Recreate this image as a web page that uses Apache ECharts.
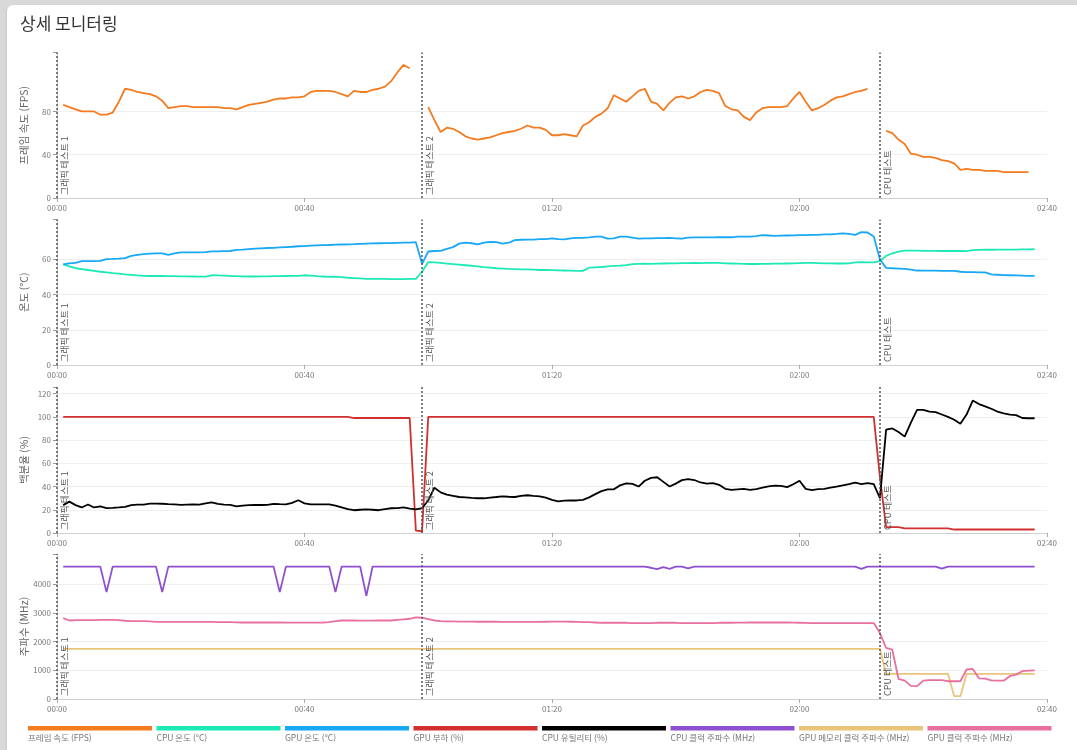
<!DOCTYPE html>
<html lang="ko">
<head>
	<meta charset="utf-8">
	<title>상세 모니터링</title>
	<style>
		html, body { margin: 0; height: 100%; background: #d9d9d9; overflow: hidden; }
		#card { position: absolute; left: 7px; top: 5px; width: 1100px; height: 800px; background: #fff; border-radius: 6px; box-shadow: 0 1px 3px rgba(0,0,0,0.15); }
		#container { position: absolute; left: 0; top: 0; width: 1077px; height: 750px; }
	</style>
</head>
<body>
<div id="card"></div>
<div id="container"></div>

<script src="https://cdn.jsdelivr.net/npm/echarts@6/dist/echarts.min.js"></script>
<script type="text/javascript">
	// sample times (minutes from start)
	var minutes = [1,2,3,4,5,6,7,8,9,10,11,12,13,14,15,16,17,18,19,20,21,22,23,24,25,26,27,28,29,30,
		31,32,33,34,35,36,37,38,39,40,41,42,43,44,45,46,47,48,49,50,51,52,53,54,55,56,57,58,59,60,
		61,62,63,64,65,66,67,68,69,70,71,72,73,74,75,76,77,78,79,80,81,82,83,84,85,86,87,88,89,90,
		91,92,93,94,95,96,97,98,99,100,101,102,103,104,105,106,107,108,109,110,111,112,113,114,115,116,117,118,119,120,
		121,122,123,124,125,126,127,128,129,130,131,132,133,134,135,136,137,138,139,140,141,142,143,144,145,146,147,148,149,150,
		151,152,153,154,155,156,157,158];

	var seriesNames = ['프레임 속도 (FPS)', 'CPU 온도 (°C)', 'GPU 온도 (°C)', 'GPU 부하 (%)',
		'CPU 유틸리티 (%)', 'CPU 클럭 주파수 (MHz)', 'GPU 메모리 클럭 주파수 (MHz)', 'GPU 클럭 주파수 (MHz)'];
	var seriesColors = ['#f47b20', '#1de9b6', '#18a8f5', '#d32f2f', '#000000', '#8e4fd0', '#e8c57a', '#e8709f'];

	var fps = [86,84,82,80,80,80,77,77,79,89,101,100,98,97,96,94,90,83,84,85,85,84,84,84,84,84,83,83,82,84,
		86,87,88,89,91,92,92,93,93,94,98,99,99,99,98,96,94,99,98,98,100,101,103,108,116,123,120,null,null,84,
		72,61,65,64,61,57,55,54,55,56,58,60,61,62,64,67,65,65,63,58,58,59,58,57,67,70,75,78,83,95,
		92,89,94,99,101,89,87,81,88,93,94,92,94,98,100,99,97,85,82,81,75,72,79,83,84,84,84,85,92,98,
		89,81,83,86,90,93,94,96,98,99,101,null,null,62,60,54,50,41,40,38,38,37,35,34,32,26,27,26,26,25,
		25,25,24,24,24,24,24,null];

	var cpuTemp = [57.2,56,55,54.5,54,53.5,53,52.6,52.2,51.9,51.5,51.2,50.9,50.7,50.6,50.6,50.6,50.5,50.5,50.4,
		50.4,50.3,50.2,50.2,51,50.9,50.8,50.6,50.5,50.4,50.3,50.3,50.4,50.4,50.5,50.5,50.6,50.7,50.7,51,
		50.8,50.5,50.3,50.1,50.2,49.9,49.6,49.4,49.2,49,49,48.9,48.9,48.8,48.8,48.8,48.9,49,53,58.5,
		58.3,58,57.6,57.3,57,56.7,56.4,56,55.6,55.3,55,54.8,54.6,54.5,54.4,54.3,54.2,54,54,53.9,
		53.8,53.7,53.6,53.5,53.5,55.3,55.5,55.7,56,56.3,56.5,56.8,57.3,57.5,57.6,57.5,57.6,57.7,57.8,57.8,
		57.9,57.9,58,57.9,58,58.1,58,57.8,57.7,57.6,57.5,57.4,57.4,57.5,57.5,57.6,57.6,57.7,57.8,57.9,
		58,58,57.9,57.8,57.8,57.7,57.7,57.8,58.3,58.4,58.3,58.3,59,62,63.5,64.5,65,65,65,64.9,
		64.9,64.9,64.8,64.8,64.8,64.8,64.7,65.3,65.4,65.5,65.5,65.6,65.6,65.6,65.6,65.7,65.7,65.8];

	var gpuTemp = [57.2,57.8,58,59,59,59,59.2,60.2,60.3,60.5,60.8,62,62.6,63,63.3,63.5,63.5,62.6,63.4,64,
		64,64,64,64.1,64.6,64.6,64.7,64.8,65.4,65.6,65.9,66.1,66.3,66.5,66.6,66.8,67,67.2,67.5,67.6,
		67.8,68,68.1,68.2,68.4,68.5,68.6,68.7,68.9,69,69.1,69.2,69.3,69.3,69.4,69.5,69.6,69.8,57.5,64.5,
		64.8,64.9,66,67,69,69.6,69.2,68.5,69.5,70,69.8,69,69.5,71,71.2,71.3,71.3,71.5,71.6,72,
		71.5,71.4,72,72.2,72.2,72.5,73,73,71.8,72,73,73,72.4,71.8,72,72,72.1,72.1,72.2,72,
		71.8,72.4,72.5,72.5,72.5,72.5,72.6,72.6,72.6,73,73,73,73.3,73.8,73.6,73.4,73.5,73.6,73.7,73.8,
		73.8,74,74,74.2,74.3,74.5,74.8,74.5,74,75.5,75.3,73,60,55.2,55,54.8,54.6,54.2,53.7,53.6,
		53.6,53.6,53.5,53.5,53.5,53,52.8,52.8,52.7,52.6,51.5,51.3,51.1,51,50.9,50.8,50.7,50.7];

	var gpuLoad = [100,100,100,100,100,100,100,100,100,100,100,100,100,100,100,100,100,100,100,100,
		100,100,100,100,100,100,100,100,100,100,100,100,100,100,100,100,100,100,100,100,
		100,100,100,100,100,100,100,99,99,99,99,99,99,99,99,99,99,2,1.5,100,
		100,100,100,100,100,100,100,100,100,100,100,100,100,100,100,100,100,100,100,100,
		100,100,100,100,100,100,100,100,100,100,100,100,100,100,100,100,100,100,100,100,
		100,100,100,100,100,100,100,100,100,100,100,100,100,100,100,100,100,100,100,100,
		100,100,100,100,100,100,100,100,100,100,100,100,48,5,5,5,4,4,4,4,
		4,4,4,4,3,3,3,3,3,3,3,3,3,3,3,3,3,3];

	var cpuUtil = [24,27,24,22,24.5,22,23,21.5,21.7,22,22.5,24,24.5,24.4,25.3,25.3,25.2,24.8,24.6,24.2,
		24.5,24.6,24.4,25.5,26.4,25,24.5,24.2,23,23.5,24,24.1,24.1,24.3,25,24.8,24.7,26,28.2,25.5,
		24.7,24.7,24.7,24.7,23.5,22,20.5,19.6,20,20.4,20,19.6,20.5,21.3,21.5,22,21,20.4,21.3,28.2,
		39,35,33,32,31,30.7,30.2,29.9,29.9,30.5,31,31.6,31.2,31,32,32.5,32,31.6,30.5,28.5,
		27.3,27.8,28,28,28.5,30.7,33.5,36,37.6,37.6,41,42.8,42.3,40,45,47.5,48,44,40,42.5,
		45.5,46.3,45.6,43.5,42.5,43,41.5,38,37.2,37.6,38,37.2,37.8,39,40.2,40.8,40.6,39.5,42,45,
		38,37,37.8,38,39,40,41,42,43.3,42,43,42,30,89,90,87,83,95,106,106,
		104.5,104,102,100,97.5,94,102,114,111,109,107,104.5,103,102,101.5,99,98.8,98.8];

	var cpuClock = [4620,4620,4620,4620,4620,4620,4620,3730,4620,4620,4620,4620,4620,4620,4620,4620,3730,4620,4620,4620,
		4620,4620,4620,4620,4620,4620,4620,4620,4620,4620,4620,4620,4620,4620,4620,3730,4620,4620,4620,4620,
		4620,4620,4620,4620,3730,4620,4620,4620,4620,3600,4620,4620,4620,4620,4620,4620,4620,4620,4620,4620,
		4620,4620,4620,4620,4620,4620,4620,4620,4620,4620,4620,4620,4620,4620,4620,4620,4620,4620,4620,4620,
		4620,4620,4620,4620,4620,4620,4620,4620,4620,4620,4620,4620,4620,4620,4620,4580,4530,4600,4540,4620,
		4620,4560,4620,4620,4620,4620,4620,4620,4620,4620,4620,4620,4620,4620,4620,4620,4620,4620,4620,4620,
		4620,4620,4620,4620,4620,4620,4620,4620,4620,4540,4620,4620,4620,4620,4620,4620,4620,4620,4620,4620,
		4620,4620,4550,4620,4620,4620,4620,4620,4620,4620,4620,4620,4620,4620,4620,4620,4620,4620];

	var gpuMemClock = [1750,1750,1750,1750,1750,1750,1750,1750,1750,1750,1750,1750,1750,1750,1750,1750,1750,1750,1750,1750,
		1750,1750,1750,1750,1750,1750,1750,1750,1750,1750,1750,1750,1750,1750,1750,1750,1750,1750,1750,1750,
		1750,1750,1750,1750,1750,1750,1750,1750,1750,1750,1750,1750,1750,1750,1750,1750,1750,1750,1750,1750,
		1750,1750,1750,1750,1750,1750,1750,1750,1750,1750,1750,1750,1750,1750,1750,1750,1750,1750,1750,1750,
		1750,1750,1750,1750,1750,1750,1750,1750,1750,1750,1750,1750,1750,1750,1750,1750,1750,1750,1750,1750,
		1750,1750,1750,1750,1750,1750,1750,1750,1750,1750,1750,1750,1750,1750,1750,1750,1750,1750,1750,1750,
		1750,1750,1750,1750,1750,1750,1750,1750,1750,1750,1750,1750,1750,875,875,875,875,875,875,875,
		875,875,875,875,100,100,875,875,875,875,875,875,875,875,875,875,875,875];

	var gpuClock = [2820,2740,2750,2750,2750,2755,2760,2760,2760,2750,2730,2720,2720,2720,2710,2690,2690,2690,2690,2690,
		2690,2690,2690,2690,2690,2685,2680,2680,2675,2670,2670,2670,2670,2670,2670,2670,2665,2665,2665,2665,
		2665,2665,2670,2680,2720,2740,2740,2740,2735,2735,2735,2740,2740,2740,2760,2780,2800,2850,2840,2790,
		2740,2720,2710,2710,2700,2700,2700,2695,2695,2695,2695,2690,2690,2690,2690,2690,2690,2690,2695,2700,
		2700,2700,2695,2690,2685,2680,2670,2660,2660,2660,2660,2660,2650,2650,2650,2650,2660,2660,2660,2660,
		2650,2650,2650,2645,2645,2650,2660,2660,2660,2665,2665,2670,2670,2670,2670,2670,2670,2670,2665,2660,
		2655,2650,2650,2650,2650,2650,2650,2650,2650,2650,2650,2650,2300,1780,1720,700,640,460,450,640,
		660,660,660,620,620,620,1030,1050,720,710,650,640,640,800,850,970,990,1000];

	var markerMinutes = [0, 59, 133];
	var markerNames = ['그래픽 테스트 1', '그래픽 테스트 2', 'CPU 테스트'];

	// y axis: [max, split step, labelled values]
	var yMax = [134.5, 82.7, 125.7, 5060];
	var yStep = [20, 10, 10, 500];
	var yLabels = [[0, 40, 80], [0, 20, 40, 60], [0, 20, 40, 60, 80, 100, 120], [0, 1000, 2000, 3000, 4000]];
	var yNames = ['프레임 속도 (FPS)', '온도 (°C)', '백분율 (%)', '주파수 (MHz)'];

	var dom = document.getElementById('container');
	var myChart = echarts.init(dom, null, { renderer: 'canvas' });

	function pairs(values) {
		return minutes.map(function (m, i) { return [m, values[i]]; });
	}
	function hhmm(v) {
		var h = Math.floor(v / 60), m = v % 60;
		return (h < 10 ? '0' : '') + h + ':' + (m < 10 ? '0' : '') + m;
	}

	var gridTops = [52.5, 219.5, 387, 554];
	var gridHeights = [145.5, 145.5, 146, 145];
	var grids = [], xAxes = [], yAxes = [];
	for (var g = 0; g < 4; g++) {
		grids.push({ left: 57, right: 30, top: gridTops[g], height: gridHeights[g] });
		xAxes.push({
			type: 'value', gridIndex: g, min: 0, max: 160, interval: 40,
			axisLine: { lineStyle: { color: '#d0d0d0' } },
			axisTick: { length: 4, lineStyle: { color: '#aaa' } },
			axisLabel: { fontSize: 8, color: '#777', margin: 6, formatter: hhmm },
			splitLine: { show: false }
		});
		yAxes.push({
			type: 'value', gridIndex: g, min: 0, max: yMax[g], interval: yStep[g],
			name: yNames[g], nameLocation: 'middle', nameGap: 28, nameMoveOverlap: false,
			nameTextStyle: { fontSize: 10.5, color: '#666' },
			axisLine: { show: true, lineStyle: { color: '#ccc' } },
			axisTick: { show: true, length: 4, lineStyle: { color: '#999' }, customValues: yLabels[g].concat([yMax[g]]) },
			axisLabel: { fontSize: 8, color: '#777', margin: 6, customValues: yLabels[g], formatter: function (v) { return String(v); } },
			splitLine: { show: true, showMaxLine: false, lineStyle: { color: '#efefef' } }
		});
	}

	function markers() {
		return {
			silent: true,
			symbol: 'none',
			animation: false,
			lineStyle: { color: '#555', type: [2, 2], width: 1.5 },
			label: { show: true, formatter: '{b}', position: 'insideStartBottom', fontSize: 9, color: '#555', distance: 3 },
			data: markerMinutes.map(function (m, i) { return { name: markerNames[i], xAxis: m }; })
		};
	}

	var valueLists = [fps, cpuTemp, gpuTemp, gpuLoad, cpuUtil, cpuClock, gpuMemClock, gpuClock];
	var gridOf = [0, 1, 1, 2, 2, 3, 3, 3];
	var series = valueLists.map(function (vals, i) {
		var s = {
			name: seriesNames[i],
			type: 'line',
			xAxisIndex: gridOf[i],
			yAxisIndex: gridOf[i],
			data: pairs(vals),
			showSymbol: false,
			lineStyle: { width: 1.8, color: seriesColors[i] },
			itemStyle: { color: seriesColors[i] },
			animation: false
		};
		if (i === 0 || i === 1 || i === 3 || i === 5) s.markLine = markers();
		return s;
	});

	// legend: bar on top, name underneath (bar drawn in the top of a taller icon box)
	var legends = seriesNames.map(function (name, i) {
		return {
			data: [name],
			left: 28 + i * 128.5,
			top: 726,
			padding: 0,
			icon: 'path://M0,0L124,0L124,4.5L0,4.5Z M0,24L0.01,24Z',
			itemWidth: 124,
			itemHeight: 25,
			itemStyle: { borderWidth: 0 },
			textStyle: { fontSize: 8.5, color: '#777', padding: [0, 0, 0, -129] }
		};
	});

	var option = {
		textStyle: { fontFamily: '"Noto Sans CJK KR", "Noto Sans", sans-serif' },
		title: {
			text: '상세 모니터링',
			left: 20,
			top: 15,
			padding: 0,
			textStyle: { fontSize: 17, fontWeight: 'normal', color: '#333' }
		},
		legend: legends,
		grid: grids,
		xAxis: xAxes,
		yAxis: yAxes,
		series: series
	};

	myChart.setOption(option);
	window.addEventListener('resize', myChart.resize);
</script>
</body>
</html>
